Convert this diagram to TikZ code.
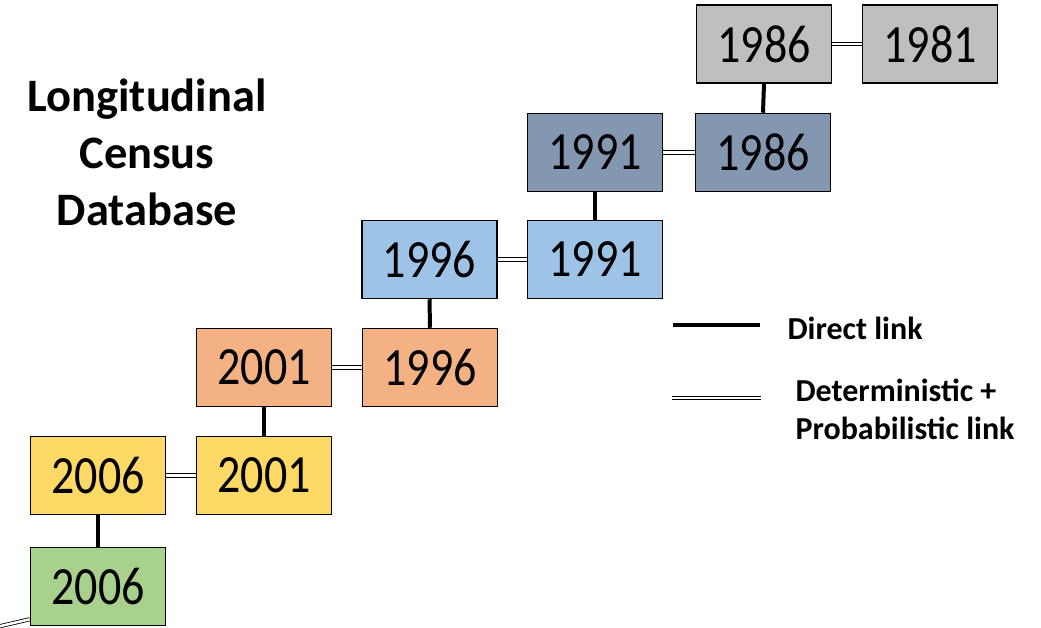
\documentclass[tikz,border=0pt]{standalone}
\usepackage{fontspec}
\usepackage{graphicx}
\setmainfont{Carlito}
\definecolor{cgrey}{HTML}{BFBFBF}
\definecolor{cdblue}{HTML}{8497B0}
\definecolor{clblue}{HTML}{9DC3E6}
\definecolor{corange}{HTML}{F4B183}
\definecolor{cyellow}{HTML}{FFD966}
\definecolor{cgreen}{HTML}{A9D18E}
\newcommand{\yr}[1]{\scalebox{1}[1.17]{#1}}
\tikzset{
  yearbox/.style={draw=black, line width=1.5pt, minimum width=135pt, minimum height=78pt, inner sep=0pt, font=\fontsize{46}{50}\selectfont},
  directlink/.style={line width=4pt},
  dplink/.style={double, double distance=2.5pt, line width=0.8pt},
  titletext/.style={align=center, font=\fontsize{46.5}{57}\selectfont\bfseries},
  legendtext/.style={align=left, anchor=west, font=\fontsize{32}{38}\selectfont\bfseries}
}
\begin{document}
\begin{tikzpicture}[x=1pt, y=-1pt]
\useasboundingbox (0,0) rectangle (1041,628);
% row 0
\node[yearbox, fill=cgrey] (g86) at (764,44) {\yr{1986}};
\node[yearbox, fill=cgrey] (g81) at (930,44) {\yr{1981}};
% row 1
\node[yearbox, fill=cdblue] (d91) at (595,152.5) {\yr{1991}};
\node[yearbox, fill=cdblue] (d86) at (763,152.5) {\yr{1986}};
% row 2
\node[yearbox, fill=clblue] (l96) at (429.5,259.5) {\yr{1996}};
\node[yearbox, fill=clblue] (l91) at (595,259.5) {\yr{1991}};
% row 3
\node[yearbox, fill=corange] (o01) at (264,367.5) {\yr{2001}};
\node[yearbox, fill=corange] (o96) at (430,367.5) {\yr{1996}};
% row 4
\node[yearbox, fill=cyellow] (y06) at (98,475.5) {\yr{2006}};
\node[yearbox, fill=cyellow] (y01) at (264,475.5) {\yr{2001}};
% row 5
\node[yearbox, fill=cgreen] (gr06) at (98,586.5) {\yr{2006}};
% double links
\draw[dplink] (g86) -- (g81);
\draw[dplink] (d91) -- (d86);
\draw[dplink] (l96) -- (l91);
\draw[dplink] (o01) -- (o96);
\draw[dplink] (y06) -- (y01);
\coordinate (off) at (-10,628.5);
\draw[dplink] ([yshift=7pt]gr06.south west) -- (off);
% direct links
\draw[directlink] (g86.south) -- (d86.north);
\draw[directlink] (d91.south) -- (l91.north);
\draw[directlink] (l96.south) -- (o96.north);
\draw[directlink] (o01.south) -- (y01.north);
\draw[directlink] (y06.south) -- (gr06.north);
% title
\node[titletext] (title) at (147,152) {Longitudinal\\Census\\Database};
% legend
\coordinate (la1) at (673,325);
\coordinate (la2) at (760,325);
\draw[directlink] (la1) -- (la2);
\coordinate (lb1) at (672,398);
\coordinate (lb2) at (761,398);
\draw[dplink] (lb1) -- (lb2);
\node[legendtext] (ldirect) at (784,328) {Direct link};
\node[legendtext] (ldp) at (792,409) {Deterministic +\\Probabilistic link};
\end{tikzpicture}
\end{document}
